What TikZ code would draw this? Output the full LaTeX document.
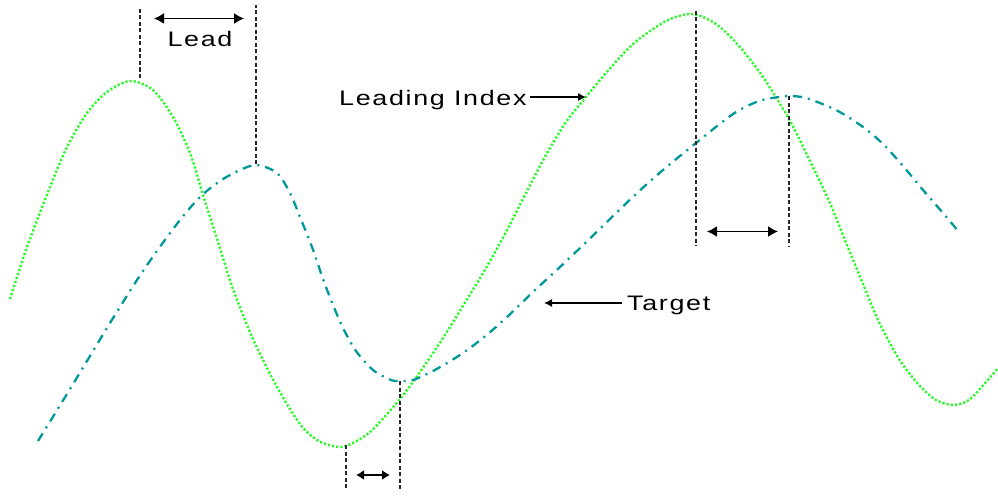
\documentclass[tikz,border=0pt]{standalone}
\usepackage{fontspec}
\setmainfont{Liberation Sans}[FakeStretch=1.28, LetterSpace=8]
\usetikzlibrary{arrows.meta}
\definecolor{lgreen}{RGB}{40,250,40}
\definecolor{tteal}{RGB}{0,153,153}
\begin{document}
\begin{tikzpicture}[x=1pt,y=-1pt,
  greencurve/.style={draw=lgreen, line width=2.4pt, dash pattern=on 2.2pt off 2pt},
  tealcurve/.style={draw=tteal, line width=2.3pt, dash pattern=on 9pt off 6pt on 2pt off 6pt},
  guide/.style={draw=black!85, line width=1.2pt, dash pattern=on 4pt off 2.5pt},
  gap/.style={draw=black, line width=1.5pt, {Latex[length=10pt,width=11pt]}-{Latex[length=10pt,width=11pt]}},
  smallgap/.style={draw=black, line width=1.5pt, {Latex[length=8pt,width=10pt]}-{Latex[length=8pt,width=10pt]}},
  pointer/.style={draw=black, line width=1.1pt, -{Latex[length=8pt,width=8pt]}},
  label/.style={inner sep=0pt, font=\fontsize{21}{25}\selectfont}]
\useasboundingbox (0,0) rectangle (998,495);
\fill[white] (0,0) rectangle (998,495);

% curves
\draw[greencurve] plot[smooth, tension=0.5] coordinates {
 (10,299) (27,247) (50,187) (67,147) (87,113) (107,92) (130,81) (153,90)
 (173,117) (190,153) (203,195) (219,245) (233,289) (253,339) (277,387)
 (300,424) (317,440) (333,446) (346,446) (370,432) (400,399) (420,372)
 (443,338) (466,301) (486,268) (506,232) (526,193) (546,155) (566,122)
 (586,97) (606,73) (633,44) (666,21) (692,14) (716,24) (739,46) (763,77)
 (789,119) (809,159) (829,201) (847,245) (863,284) (879,322) (899,359)
 (919,385) (936,400) (953,405) (969,400) (986,382) (998,368)};
\draw[tealcurve] plot[smooth, tension=0.5] coordinates {
 (38,441) (67,394) (87,361) (110,323) (137,280) (157,251) (180,220) (200,197)
 (220,181) (240,170) (257,165) (277,173) (290,193) (300,217) (312,247)
 (323,279) (333,305) (343,328) (356,351) (373,370) (391,380) (403,381)
 (413,380) (433,371) (460,355) (483,338) (506,318) (533,292) (560,267)
 (580,248) (610,219) (636,194) (663,170) (696,143) (733,114) (759,101)
 (779,97) (789,96) (806,98) (836,110) (863,127) (883,144) (903,166)
 (923,190) (943,213) (959,232)};

% guide coordinates
\coordinate (g1b) at (140,78);  \coordinate (g1t) at (140,7);
\coordinate (t1b) at (256,164); \coordinate (t1t) at (256,5);
\coordinate (g2t) at (346,445); \coordinate (g2b) at (346,490);
\coordinate (t2t) at (400,381); \coordinate (t2b) at (400,490);
\coordinate (g3t) at (696,11);  \coordinate (g3b) at (696,246);
\coordinate (t3t) at (789,96);  \coordinate (t3b) at (789,246);

\draw[guide] (g1b) -- (g1t);
\draw[guide] (t1b) -- (t1t);
\draw[guide] (g2t) -- (g2b);
\draw[guide] (t2t) -- (t2b);
\draw[guide] (g3t) -- (g3b);
\draw[guide] (t3t) -- (t3b);

% gap arrows
\coordinate (a1l) at (154,18.5); \coordinate (a1r) at (244,18.5);
\draw[gap] (a1l) -- (a1r);
\coordinate (a2l) at (356,475); \coordinate (a2r) at (390,475);
\draw[smallgap] (a2l) -- (a2r);
\coordinate (a3l) at (707,231.5); \coordinate (a3r) at (778,231.5);
\draw[gap] (a3l) -- (a3r);

% labels
\node[label, anchor=base] (leadlbl) at (200,47) {Lead};
\node[label, anchor=base west] (lilbl) at (339,105) {Leading Index};
\node[label, anchor=base west] (tglbl) at (627,310) {Target};

\coordinate (lis) at (530,97); \coordinate (lie) at (586,97);
\draw[pointer] (lis) -- (lie);
\coordinate (tgs) at (622,303); \coordinate (tge) at (544,303);
\draw[pointer] (tgs) -- (tge);
\end{tikzpicture}
\end{document}
